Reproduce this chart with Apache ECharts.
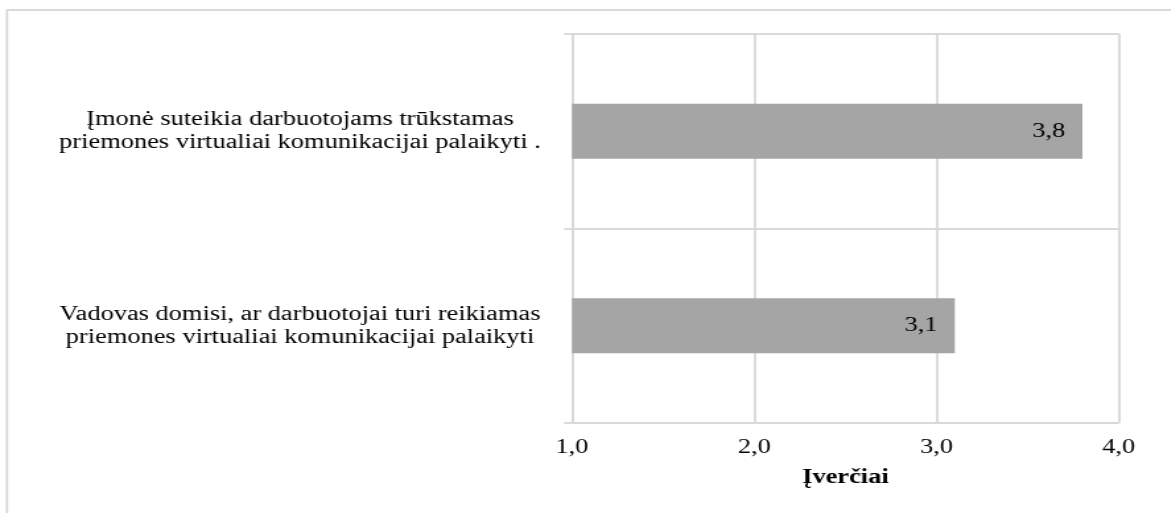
<!DOCTYPE html>
<html>
<head>
<meta charset="utf-8">
<script src="https://cdn.jsdelivr.net/npm/echarts@6/dist/echarts.min.js"></script>
<style>
  html, body { margin: 0; padding: 0; background: #ffffff; overflow: hidden; }
  /* the chart is laid out narrower and widened with scaleX for the wide serif look */
  #chart { height: 513px; transform-origin: 0 0; }
</style>
</head>
<body>
<div id="chart"></div>
<script>
// Categories (bottom to top) and their mean scores
const statements = [
  'Vadovas domisi, ar darbuotojai turi reikiamas\npriemones virtualiai komunikacijai palaikyti',
  'Įmonė suteikia darbuotojams trūkstamas\npriemones virtualiai komunikacijai palaikyti .'
];
const scores = [3.1, 3.8];
const scoreTicks = [1.0, 2.0, 3.0, 4.0];
const axisTitle = 'Įverčiai';

const SX = 1.32;                 // horizontal stretch of the whole drawing
const W = 1171 / SX;             // unstretched layout width
const el = document.getElementById('chart');
el.style.width = W + 'px';
el.style.transform = 'scaleX(' + SX + ')';

const GRID = '#d9d9d9';
const FONT = '"Liberation Serif", "Times New Roman", serif';
const comma = v => Number(v).toFixed(1).replace('.', ',');

const chart = echarts.init(el, null, { renderer: 'canvas' });
chart.setOption({
  animation: false,
  backgroundColor: '#ffffff',
  textStyle: { fontFamily: FONT },
  graphic: [{
    type: 'rect',
    silent: true,
    z: -1,
    shape: { x: 7 / SX, y: 10, width: 2000, height: 1000 },
    style: { fill: 'none', stroke: GRID, lineWidth: 1.8 }
  }],
  grid: {
    left: 572 / SX,
    right: W - 1119 / SX,
    top: 34,
    bottom: 90,
    containLabel: false,
    outerBoundsMode: 'none'
  },
  xAxis: {
    type: 'value',
    min: scoreTicks[0],
    max: scoreTicks[scoreTicks.length - 1],
    interval: scoreTicks[1] - scoreTicks[0],
    startValue: scoreTicks[0],
    name: axisTitle,
    nameLocation: 'middle',
    nameGap: 45,
    nameTextStyle: { color: '#000', fontSize: 20, fontWeight: 'bold', fontFamily: FONT },
    axisLine: { show: false },
    axisTick: { show: false },
    splitLine: { show: true, lineStyle: { color: GRID, width: 1.8 } },
    axisLabel: {
      color: '#000', fontSize: 20, fontFamily: FONT, margin: 15,
      formatter: v => comma(v)
    }
  },
  yAxis: {
    type: 'category',
    data: statements,
    axisLine: { show: true, lineStyle: { color: GRID, width: 1.8 } },
    axisTick: { show: true, length: 6, lineStyle: { color: GRID, width: 1.8 } },
    splitLine: { show: true, lineStyle: { color: GRID, width: 1.8 } },
    axisLabel: {
      color: '#000', fontSize: 20, fontFamily: FONT, lineHeight: 23,
      align: 'center', margin: (572 - 300) / SX
    }
  },
  series: [{
    type: 'bar',
    data: scores,
    barWidth: 55,
    clip: true,
    itemStyle: { color: '#a5a5a5' },
    label: {
      show: true,
      position: 'insideRight',
      distance: 13,
      color: '#000',
      fontSize: 20,
      fontFamily: FONT,
      formatter: p => comma(p.value)
    }
  }]
});
</script>
</body>
</html>
